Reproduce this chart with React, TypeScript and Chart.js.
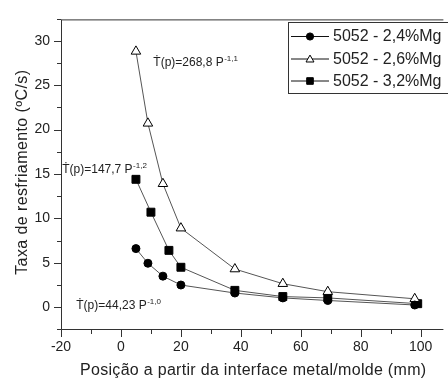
import React, { useEffect, useRef } from "react";
import { Chart, registerables } from "chart.js";

Chart.register(...registerables);

// ---- data ----
const seriesNames = ["5052 - 2,4%Mg", "5052 - 2,6%Mg", "5052 - 3,2%Mg"];
const posMg24 = [5, 9, 14, 20, 38, 54, 69, 98];
const rateMg24 = [6.6, 4.95, 3.5, 2.5, 1.6, 1.05, 0.76, 0.25];
const posMg26 = [5, 9, 14, 20, 38, 54, 69, 98];
const rateMg26 = [28.8, 20.7, 13.9, 8.9, 4.3, 2.65, 1.75, 0.95];
const posMg32 = [5, 10, 16, 20, 38, 54, 69, 99];
const rateMg32 = [14.4, 10.7, 6.4, 4.5, 1.9, 1.2, 1.05, 0.4];

const xTitle = "Posição a partir da interface metal/molde (mm)";
const yTitle = "Taxa de resfriamento (ºC/s)";

const eqLabels = ["Ṫ(p)=268,8 P", "Ṫ(p)=147,7 P", "Ṫ(p)=44,23 P"];
const eqExponents = ["-1,1", "-1,2", "-1,0"];
const eqX = [10.8, -19.6, -14.9];
const eqY = [27.1, 15.1, -0.2];

const xMajorTicks = [-20, 0, 20, 40, 60, 80, 100];
const xMinorTicks = [-10, 10, 30, 50, 70, 90, 110];
const yMajorTicks = [0, 5, 10, 15, 20, 25, 30];
const yMinorTicks = [-2.5, 2.5, 7.5, 12.5, 17.5, 22.5, 27.5, 32.5];

const FONT = "'Liberation Sans', Arial, 'DejaVu Sans', sans-serif";
const AXIS_COLOR = "#333333";
const TEXT_COLOR = "#222222";
const LINE_COLOR = "#555555";

function toPoints(xs: number[], ys: number[]) {
  return xs.map((x, i) => ({ x, y: ys[i] }));
}

function drawMarker(ctx: CanvasRenderingContext2D, style: string, x: number, y: number, r: number) {
  ctx.beginPath();
  if (style === "triangle") {
    for (let k = 0; k < 3; k++) {
      const a = -Math.PI / 2 + (k * 2 * Math.PI) / 3;
      const px = x + r * Math.cos(a);
      const py = y + r * Math.sin(a) + r * 0.15;
      if (k === 0) ctx.moveTo(px, py);
      else ctx.lineTo(px, py);
    }
    ctx.closePath();
  } else if (style === "rect") {
    ctx.rect(x - r, y - r, 2 * r, 2 * r);
  } else {
    ctx.arc(x, y, r, 0, Math.PI * 2);
  }
  ctx.fill();
  ctx.stroke();
}

const customPlugin = {
  id: "customDecor",
  beforeDatasetsDraw(chart: any) {
    const ctx = chart.ctx as CanvasRenderingContext2D;
    const { left, right, top, bottom } = chart.chartArea;
    const xs = chart.scales.x;
    const ys = chart.scales.y;
    ctx.save();
    ctx.strokeStyle = AXIS_COLOR;
    ctx.lineWidth = 1;
    ctx.beginPath();
    ctx.moveTo(left + 0.5, top + 0.5);
    ctx.lineTo(left + 0.5, bottom + 0.5);
    ctx.lineTo(right + 2, bottom + 0.5);
    ctx.moveTo(left + 0.5, top + 0.5);
    ctx.lineTo(right + 2, top + 0.5);
    xMajorTicks.forEach((v) => {
      const px = Math.round(xs.getPixelForValue(v)) + 0.5;
      ctx.moveTo(px, bottom + 0.5);
      ctx.lineTo(px, bottom + 8);
    });
    xMinorTicks.forEach((v) => {
      const px = Math.round(xs.getPixelForValue(v)) + 0.5;
      if (px > right) return;
      ctx.moveTo(px, bottom + 0.5);
      ctx.lineTo(px, bottom + 5);
    });
    yMajorTicks.forEach((v) => {
      const py = Math.round(ys.getPixelForValue(v)) + 0.5;
      ctx.moveTo(left + 0.5, py);
      ctx.lineTo(left - 7, py);
    });
    yMinorTicks.forEach((v) => {
      const py = Math.round(ys.getPixelForValue(v)) + 0.5;
      if (py < top || py > bottom + 1) return;
      ctx.moveTo(left + 0.5, py);
      ctx.lineTo(left - 4, py);
    });
    ctx.stroke();

    ctx.fillStyle = TEXT_COLOR;
    ctx.font = `16px ${FONT}`;
    (ctx as any).letterSpacing = "0.3px";
    ctx.textAlign = "center";
    ctx.textBaseline = "middle";
    ctx.fillText(xTitle, (left + right) / 2 + 2, 371);
    (ctx as any).letterSpacing = "0.4px";
    ctx.translate(23, (top + bottom) / 2 - 2);
    ctx.rotate(-Math.PI / 2);
    ctx.fillText(yTitle, 0, 0);
    ctx.restore();
  },
  afterDatasetsDraw(chart: any) {
    const ctx = chart.ctx as CanvasRenderingContext2D;
    const xs = chart.scales.x;
    const ys = chart.scales.y;
    ctx.save();
    ctx.fillStyle = TEXT_COLOR;
    ctx.textAlign = "left";
    ctx.textBaseline = "alphabetic";
    eqLabels.forEach((label, i) => {
      const px = xs.getPixelForValue(eqX[i]);
      const py = ys.getPixelForValue(eqY[i]);
      ctx.font = `12px ${FONT}`;
      ctx.fillText(label, px, py);
      const w = ctx.measureText(label).width;
      ctx.font = `8px ${FONT}`;
      ctx.fillText(eqExponents[i], px + w + 0.5, py - 5);
    });

    const boxLeft = 288.5;
    const boxTop = 22.5;
    const boxH = 71;
    ctx.strokeStyle = AXIS_COLOR;
    ctx.lineWidth = 1;
    ctx.strokeRect(boxLeft, boxTop, 200, boxH);
    const rowYs = [36, 58.5, 80.5];
    chart.data.datasets.forEach((ds: any, i: number) => {
      const y = rowYs[i];
      ctx.strokeStyle = "#111111";
      ctx.lineWidth = 1;
      ctx.beginPath();
      ctx.moveTo(291, y + 0.5);
      ctx.lineTo(329, y + 0.5);
      ctx.stroke();
      const style = ds.pointStyle;
      ctx.fillStyle = ds.pointBackgroundColor;
      ctx.strokeStyle = ds.pointBorderColor;
      const r = style === "triangle" ? 4.6 : style === "rect" ? 3.3 : 3.6;
      drawMarker(ctx, style, 310, y + 0.5, r);
      ctx.fillStyle = TEXT_COLOR;
      ctx.font = `16px ${FONT}`;
      ctx.textBaseline = "middle";
      ctx.fillText(ds.label, 333, y + 1);
    });
    ctx.restore();
  },
};

export default function App() {
  const canvasRef = useRef<HTMLCanvasElement | null>(null);

  useEffect(() => {
    document.body.style.margin = "0";
    const canvas = canvasRef.current;
    if (!canvas) return;
    const common = {
      borderColor: LINE_COLOR,
      borderWidth: 1,
      pointBorderColor: "#000000",
      pointBorderWidth: 1,
      showLine: true,
      tension: 0,
    };
    const chart = new Chart(canvas, {
      type: "scatter",
      data: {
        datasets: [
          {
            ...common,
            label: seriesNames[0],
            data: toPoints(posMg24, rateMg24),
            pointStyle: "circle",
            pointRadius: 4,
            pointBackgroundColor: "#000000",
          },
          {
            ...common,
            label: seriesNames[1],
            data: toPoints(posMg26, rateMg26),
            pointStyle: "triangle",
            pointRadius: 5.5,
            pointBackgroundColor: "#ffffff",
          },
          {
            ...common,
            label: seriesNames[2],
            data: toPoints(posMg32, rateMg32),
            pointStyle: "rect",
            pointRadius: 5.6,
            pointBackgroundColor: "#000000",
          },
        ] as any,
      },
      options: {
        animation: false,
        responsive: false,
        devicePixelRatio: 1,
        layout: { padding: { top: 8, left: 0, right: 0, bottom: 0 } },
        plugins: {
          legend: { display: false },
          tooltip: { enabled: false },
        },
        scales: {
          x: {
            type: "linear",
            min: -20,
            max: 106.9,
            grid: { display: false, drawTicks: false },
            border: { display: false },
            ticks: {
              stepSize: 20,
              includeBounds: false,
              padding: 10,
              color: TEXT_COLOR,
              font: { size: 14, family: FONT },
              maxRotation: 0,
            },
            afterFit: (s: any) => {
              s.height = 54;
            },
          },
          y: {
            type: "linear",
            min: -2.45,
            max: 32.4,
            grid: { display: false, drawTicks: false },
            border: { display: false },
            ticks: {
              stepSize: 5,
              includeBounds: false,
              padding: 11,
              color: TEXT_COLOR,
              font: { size: 14, family: FONT },
            },
            afterFit: (s: any) => {
              s.width = 61;
            },
          },
        },
      } as any,
      plugins: [customPlugin],
    });
    return () => chart.destroy();
  }, []);

  return (
    <div style={{ width: 448, height: 383, background: "#ffffff" }}>
      <canvas ref={canvasRef} width={448} height={383} style={{ display: "block" }} />
    </div>
  );
}
